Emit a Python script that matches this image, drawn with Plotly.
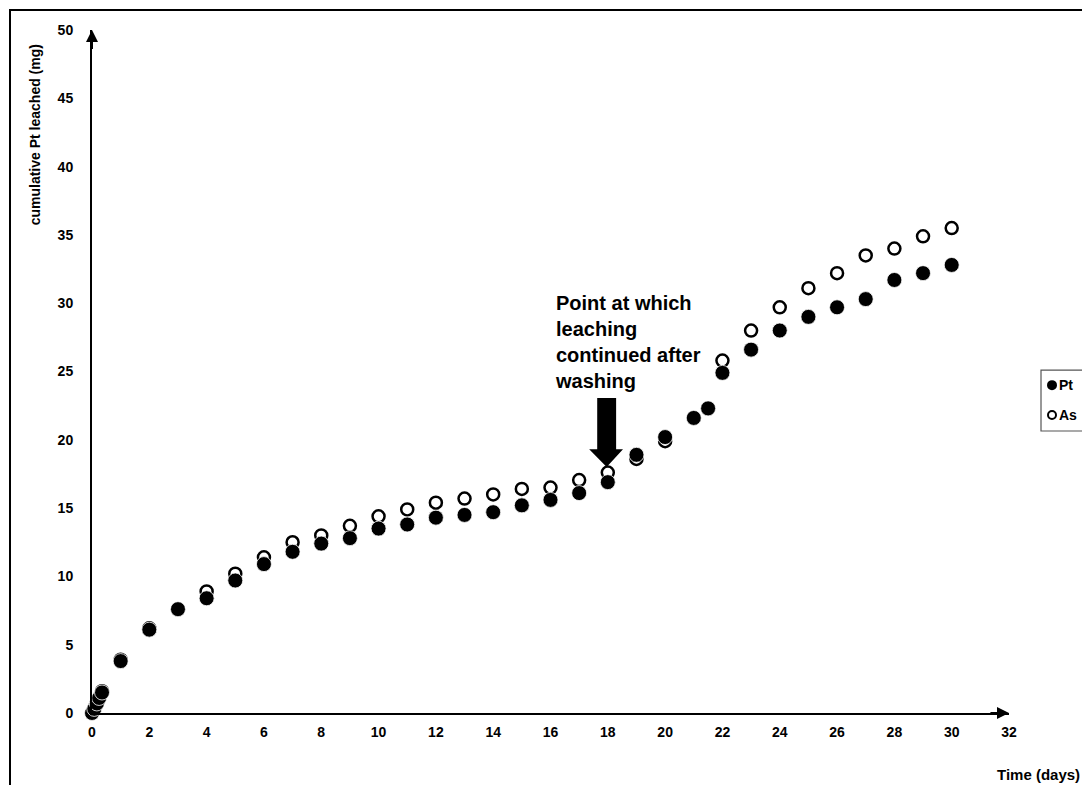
import plotly.graph_objects as go

# Data
time_pt = [0, 0.08, 0.17, 0.25, 0.35, 1, 2, 3, 4, 5, 6, 7, 8, 9, 10, 11, 12, 13, 14, 15,
           16, 17, 18, 19, 20, 21, 21.5, 22, 23, 24, 25, 26, 27, 28, 29, 30]
pt_values = [0, 0.3, 0.7, 1.1, 1.5, 3.8, 6.1, 7.6, 8.4, 9.7, 10.9, 11.8, 12.4, 12.8, 13.5, 13.8,
             14.3, 14.5, 14.7, 15.2, 15.6, 16.1, 16.9, 18.9, 20.2, 21.6, 22.3, 24.9, 26.6, 28.0,
             29.0, 29.7, 30.3, 31.7, 32.2, 32.8]

time_as = [0, 0.08, 0.17, 0.25, 0.35, 1, 2, 3, 4, 5, 6, 7, 8, 9, 10, 11, 12, 13, 14, 15,
           16, 17, 18, 19, 20, 21, 21.5, 22, 23, 24, 25, 26, 27, 28, 29, 30]
as_values = [0, 0.3, 0.7, 1.1, 1.6, 3.9, 6.2, 7.6, 8.9, 10.2, 11.4, 12.5, 13.0, 13.7, 14.4, 14.9,
             15.4, 15.7, 16.0, 16.4, 16.5, 17.05, 17.6, 18.6, 19.9, 21.6, 22.3, 25.8, 28.0, 29.7,
             31.1, 32.2, 33.5, 34.0, 34.9, 35.5]

series_names = ["Pt", "As"]
x_ticks = list(range(0, 33, 2))
y_ticks = list(range(0, 51, 5))

FONT = "Liberation Sans, Arial, sans-serif"

fig = go.Figure()
fig.add_trace(go.Scatter(
    x=time_as, y=as_values, mode="markers", name=series_names[1], showlegend=False,
    marker=dict(symbol="circle", size=12, color="white", line=dict(color="black", width=2.5)),
    cliponaxis=False,
))
fig.add_trace(go.Scatter(
    x=time_pt, y=pt_values, mode="markers", name=series_names[0], showlegend=False,
    marker=dict(symbol="circle", size=15, color="black", line=dict(color="white", width=0.8)),
    cliponaxis=False,
))

axis_font = dict(family=FONT, size=14, color="black", weight="bold")

fig.update_layout(
    width=1082, height=777,
    margin=dict(l=84, r=81, t=22, b=72, autoexpand=False),
    paper_bgcolor="white", plot_bgcolor="white",
    showlegend=False,
    xaxis=dict(
        range=[0, 32], tickvals=x_ticks, ticktext=[str(v) for v in x_ticks],
        showgrid=False, zeroline=False, showline=True, linecolor="black", linewidth=2,
        ticks="", tickfont=axis_font, ticklabelstandoff=5,
    ),
    yaxis=dict(
        range=[0, 50], tickvals=y_ticks, ticktext=[str(v) for v in y_ticks],
        showgrid=False, zeroline=False, showline=True, linecolor="black", linewidth=2,
        ticks="", tickfont=axis_font, ticklabelstandoff=14,
    ),
)

# axis arrowheads
fig.add_annotation(x=32, y=0, ax=31.3, ay=0, xref="x", yref="y", axref="x", ayref="y",
                   text="", showarrow=True, arrowhead=2, arrowsize=1.2, arrowwidth=2,
                   arrowcolor="black")
fig.add_annotation(x=0, y=50, ax=0, ay=48.5, xref="x", yref="y", axref="x", ayref="y",
                   text="", showarrow=True, arrowhead=2, arrowsize=1.2, arrowwidth=2,
                   arrowcolor="black")

# axis titles
fig.add_annotation(x=-0.062, y=0.846, xref="paper", yref="paper", text="cumulative Pt leached (mg)",
                   textangle=-90, showarrow=False, xanchor="center", yanchor="middle",
                   font=dict(family=FONT, size=14, color="black", weight="bold"))
fig.add_annotation(x=1.08, y=-0.09, xref="paper", yref="paper", text="Time (days)",
                   showarrow=False, xanchor="right", yanchor="middle",
                   font=dict(family=FONT, size=15, color="black", weight="bold"))

# text annotation
fig.add_annotation(x=16.1, y=31.0, xref="x", yref="y",
                   text="Point at which<br>leaching<br>continued after<br>washing",
                   showarrow=False, xanchor="left", yanchor="top", align="left",
                   font=dict(family=FONT, size=20, color="black", weight="bold"))

# block arrow
fig.add_shape(type="path", xref="x", yref="y",
              path="M 17.63 23.06 L 18.29 23.06 L 18.29 19.3 L 18.53 19.3 L 17.96 18.0 "
                   "L 17.35 19.3 L 17.63 19.3 Z",
              fillcolor="black", line=dict(color="black", width=0))

# legend (drawn manually so it sits against the right edge like the reference)
fig.add_shape(type="rect", xref="paper", yref="paper",
              x0=1.0349, x1=1.2, y0=0.4129, y1=0.502,
              line=dict(color="#555", width=1.2), fillcolor="white")
legend_y = [0.480, 0.4363]
legend_fill = ["black", "white"]
for name, yy, fc in zip(series_names, legend_y, legend_fill):
    fig.add_shape(type="circle", xref="paper", yref="paper",
                  xsizemode="pixel", ysizemode="pixel", xanchor=1.0469, yanchor=yy,
                  x0=-4, x1=4, y0=-4, y1=4,
                  fillcolor=fc, line=dict(color="black", width=2))
    fig.add_annotation(x=1.0525, y=yy, xref="paper", yref="paper", text=name,
                       showarrow=False, xanchor="left", yanchor="middle",
                       font=dict(family=FONT, size=14, color="black", weight="bold"))

# outer frame
fig.add_shape(type="rect", xref="paper", yref="paper",
              x0=(10 - 92) / 917, x1=(1110 - 92) / 917,
              y0=(713 - 810) / 683, y1=(713 - 10) / 683,
              line=dict(color="black", width=2), fillcolor="rgba(0,0,0,0)", layer="below")

fig.write_html("out.html")
